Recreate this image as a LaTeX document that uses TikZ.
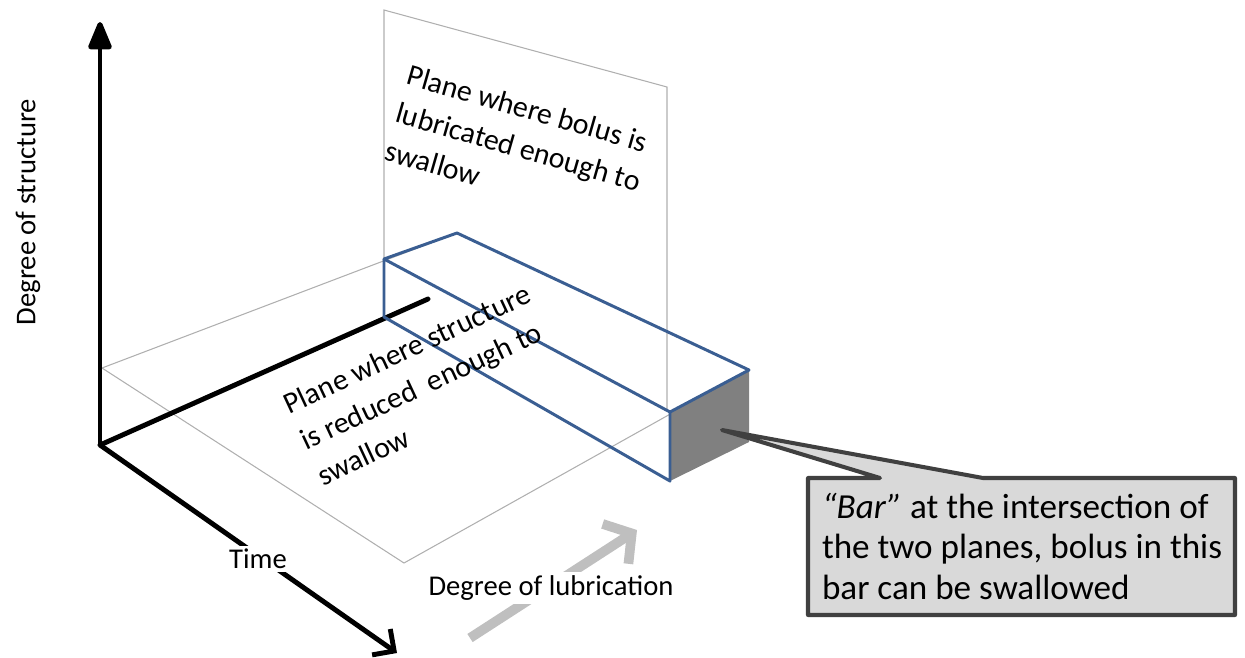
\documentclass[tikz,border=0pt]{standalone}
\usepackage{fontspec}
\setmainfont{Carlito}
\usetikzlibrary{arrows.meta}
\definecolor{barblue}{RGB}{58,94,146}
\definecolor{notefill}{RGB}{217,217,217}
\definecolor{noteline}{RGB}{64,64,64}
\definecolor{blockgray}{RGB}{128,128,128}
\definecolor{planegray}{RGB}{175,175,175}
\definecolor{lubgray}{RGB}{191,191,191}
\begin{document}
\begin{tikzpicture}[x=0.02cm,y=-0.02cm,inner sep=0pt,outer sep=0pt,
axis/.style={line width=2.8pt,black},
planeedge/.style={draw=planegray,line width=0.6pt},
barline/.style={draw=barblue,line width=1.7pt,line join=round},
planetext/.style={font=\fontsize{17}{22.5}\selectfont,align=left,anchor=north west},
axislabel/.style={font=\fontsize{16.3}{19}\selectfont,fill=white,inner sep=2pt},
notebox/.style={fill=notefill,draw=noteline,line width=2.3pt,line join=round}]
\useasboundingbox (0,0) rectangle (1245,657);
\coordinate (O) at (100,445);
\coordinate (structtip) at (100,22);
\coordinate (timetip) at (397,653);
\coordinate (lubend) at (428,299);
\coordinate (hA) at (102,368);
\coordinate (hNL) at (404,563);
\coordinate (hNR) at (749,370);
\coordinate (hFR) at (457,233);
\coordinate (vTL) at (384,10);
\coordinate (vTR) at (667,87);
\coordinate (vBR) at (667,411);
\coordinate (vBL) at (384,259);
\coordinate (b1) at (384,259);
\coordinate (b2) at (457,233);
\coordinate (b3) at (749,370);
\coordinate (b4) at (670,412);
\coordinate (b5) at (670,481);
\coordinate (b6) at (384,317);
\coordinate (k4) at (749,442);
\coordinate (lubtail) at (470,638);
\coordinate (lubtip) at (637,530);
\coordinate (bartip) at (722,430);
\draw[planeedge] (hA) -- (hNL) -- (hNR) -- (hFR) -- cycle;
\draw[planeedge] (vBL) -- (vTL) -- (vTR) -- (vBR);
\draw[axis,line cap=round] (O) -- (lubend);
\draw[axis,-{Triangle[length=18pt,width=14pt,round]}] (O) -- (structtip);
\draw[axis,-{Straight Barb[length=9pt,width=18pt]}] (O) -- (timetip);
\draw[lubgray,line width=5.5pt,-{Straight Barb[length=11pt,width=27pt]}] (lubtail) -- (lubtip);
\fill[blockgray] (b4) -- (b3) -- (k4) -- (b5) -- cycle;
\draw[white!85!black,line width=0.8pt] (b4) -- (b3);
\draw[barline] (b1) -- (b2) -- (b3) -- (b4) -- cycle;
\draw[barline] (b4) -- (b5) -- (b6) -- (b1);
\draw (258,559) node[axislabel] (timelbl) {Time};
\draw (551,588) node[axislabel] (lublbl) {Degree of lubrication};
\draw (28,212) node[axislabel,rotate=90] (structlbl) {Degree of structure};
\draw (411,64) node[planetext,rotate=-16] (vplanetxt) {Plane where bolus is\\lubricated enough to\\swallow};
\draw (281,396) node[planetext,rotate=25] (hplanetxt) {Plane where structure\\is reduced\ \ enough to\\swallow};
\draw[notebox] (808,478) -- (880,478) -- (bartip) -- (983,478) -- (1235,478) -- (1235,615) -- (808,615) -- cycle;
\draw (822,493) node[anchor=north west,align=left,font=\fontsize{20}{23}\selectfont] (barnote) {\textit{“Bar”} at the intersection of\\the two planes, bolus in this\\bar can be swallowed};
\end{tikzpicture}
\end{document}
